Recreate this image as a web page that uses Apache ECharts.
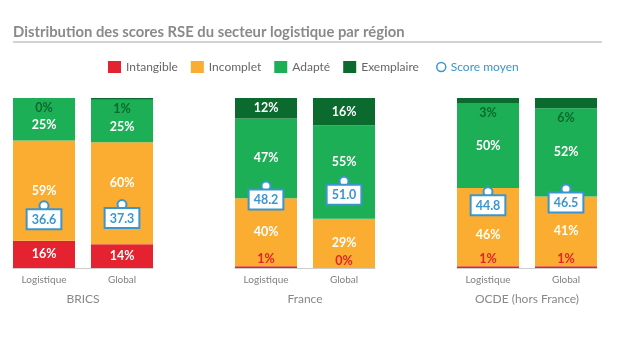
<!DOCTYPE html>
<html>
<head>
<meta charset="utf-8">
<script src="https://cdn.jsdelivr.net/npm/echarts@6/dist/echarts.min.js"></script>
<style>html,body{margin:0;padding:0;background:#fff}#c{width:620px;height:340px}</style>
</head>
<body>
<div id="c"></div>
<script>
const groups = ['BRICS', 'France', 'OCDE (hors France)'];
const subCategories = ['Logistique', 'Global'];
const intangible = [[16, 14], [1, 0], [1, 1]];
const incomplet = [[59, 60], [40, 29], [46, 41]];
const adapte = [[25, 25], [47, 55], [50, 52]];
const exemplaire = [[0, 1], [12, 16], [3, 6]];
const scores = [[36.6, 37.3], [48.2, 51.0], [44.8, 46.5]];

const C = {red: '#E5222F', orange: '#FAAD30', green: '#1DAF56', dark: '#0B6A2D', blue: '#3A96CE'};
const FONT = 'Lato';
const chart = echarts.init(document.getElementById('c'));

const barLefts = [5, 227, 449];
const lineLefts = [13, 235, 457];
const grids = [], xAxes = [], yAxes = [], series = [];
const mainLabel = {show: true, position: 'inside', color: '#fff', fontWeight: 'bold', fontSize: 12.5, fontFamily: FONT,
  formatter: '{c}%', textBorderWidth: 0};

// label placement rules derived from the neighbouring values
function segData(i, vals, kind) {
  return vals.map((v, j) => {
    const item = {value: v};
    if (v < 10) {
      if (kind === 'low') item.label = {position: 'top', distance: 1, color: C.red};
      if (kind === 'high') item.label = {position: 'bottom', distance: 3, color: C.dark};
    } else if (kind === 'mid1' || kind === 'mid2') {
      const lowBase = intangible[i][j];
      const start = kind === 'mid1' ? lowBase : lowBase + incomplet[i][j];
      const center = start + v / 2;
      const d = center - scores[i][j];
      let dy = 0;
      if (d > 0 && d < 7) dy = -10;
      if (d < 0 && d > -22) dy = 8;
      if (kind === 'mid2' && exemplaire[i][j] < 2) dy += 6;
      if (dy) item.label = {offset: [0, dy]};
    }
    return item;
  });
}

groups.forEach((g, i) => {
  grids.push({left: barLefts[i], width: 156, top: 98, bottom: 72});
  grids.push({left: lineLefts[i], width: 140, top: 98, bottom: 72});
  const gb = 2 * i, gl = 2 * i + 1;
  xAxes.push({gridIndex: gb, type: 'category', data: subCategories,
    axisLine: {show: false}, axisTick: {show: false},
    axisLabel: {color: '#808080', fontSize: 10, fontFamily: FONT, margin: 7}});
  xAxes.push({gridIndex: gl, type: 'category', data: [''], offset: 20,
    axisLine: {show: true, lineStyle: {color: '#cccccc', width: 1}}, axisTick: {show: false}, axisLabel: {show: false},
    name: g, nameLocation: 'middle', nameGap: 5,
    nameTextStyle: {color: '#888888', fontSize: 12, fontFamily: FONT, verticalAlign: 'top'}});
  yAxes.push({gridIndex: gb, type: 'value', min: 0, max: 100, show: false});
  yAxes.push({gridIndex: gl, type: 'value', min: 0, max: 100, show: false});
  const base = {type: 'bar', xAxisIndex: gb, yAxisIndex: gb, stack: 's' + i, barWidth: 62, label: mainLabel};
  series.push(Object.assign({}, base, {name: 'Intangible', itemStyle: {color: C.red}, data: segData(i, intangible[i], 'low')}));
  series.push(Object.assign({}, base, {name: 'Incomplet', itemStyle: {color: C.orange}, data: segData(i, incomplet[i], 'mid1')}));
  series.push(Object.assign({}, base, {name: 'Adapté', itemStyle: {color: C.green}, data: segData(i, adapte[i], 'mid2')}));
  series.push(Object.assign({}, base, {name: 'Exemplaire', itemStyle: {color: C.dark}, data: segData(i, exemplaire[i], 'high')}));
  series.push({type: 'scatter', name: 'Score moyen', xAxisIndex: gb, yAxisIndex: gb, z: 5,
    symbol: 'emptyCircle', symbolSize: 9,
    itemStyle: {color: C.blue, borderWidth: 2.5, opacity: 1},
    label: {show: true, position: 'bottom', distance: -1,
      formatter: p => p.value.toFixed(1),
      color: C.blue, fontWeight: 'bold', fontSize: 12.5, fontFamily: FONT, opacity: 1,
      backgroundColor: '#ffffff', borderColor: C.blue, borderWidth: 2, padding: [3, 4, 2, 4]},
    emphasis: {disabled: true},
    data: scores[i]});
});

chart.setOption({
  animation: false,
  title: {text: 'Distribution des scores RSE du secteur logistique par région', left: 13, top: 25, padding: 0,
    textStyle: {color: '#8a8a8a', fontSize: 14.8, fontWeight: 'bold', fontFamily: FONT}},
  graphic: [{type: 'line', shape: {x1: 13, y1: 42, x2: 602, y2: 42}, style: {stroke: '#d2d2d2', lineWidth: 2}}],
  legend: [
    {left: 108, top: 61, padding: 0, itemWidth: 13, itemHeight: 12, itemGap: 13, icon: 'rect',
      textStyle: {color: '#666', fontSize: 12, fontFamily: FONT},
      data: ['Intangible', 'Incomplet', 'Adapté', 'Exemplaire']},
    {left: 436, top: 61, padding: 0, itemWidth: 9, itemHeight: 12, itemGap: 5,
      data: [{name: 'Score moyen', icon: 'circle', itemStyle: {color: '#fff', borderColor: C.blue, borderWidth: 1.5},
        textStyle: {color: C.blue, fontSize: 12, fontFamily: FONT}}]}
  ],
  grid: grids, xAxis: xAxes, yAxis: yAxes, series: series
});
</script>
</body>
</html>
